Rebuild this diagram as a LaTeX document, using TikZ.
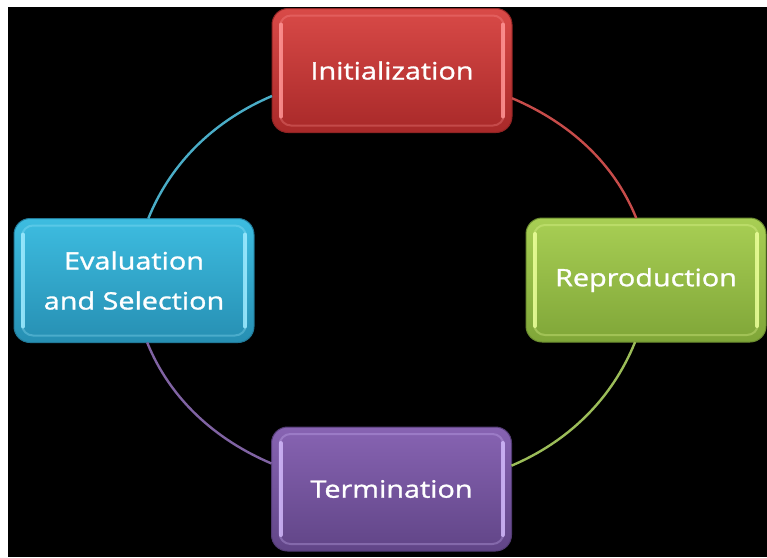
\documentclass[tikz,border=0pt]{standalone}
\usepackage{fontspec}
\newfontfamily\stagefont[FakeStretch=1.2,FakeBold=1.2]{Open Sans}
\definecolor{initred}{rgb}{0.85,0.29,0.28}
\definecolor{initreddark}{rgb}{0.66,0.16,0.16}
\definecolor{initredlight}{rgb}{1.0,0.58,0.58}
\definecolor{reprogreen}{rgb}{0.66,0.81,0.33}
\definecolor{reprogreendark}{rgb}{0.50,0.65,0.22}
\definecolor{reprogreenlight}{rgb}{0.92,1.0,0.60}
\definecolor{termpurple}{rgb}{0.53,0.39,0.70}
\definecolor{termpurpledark}{rgb}{0.38,0.27,0.53}
\definecolor{termpurplelight}{rgb}{0.82,0.72,0.98}
\definecolor{evalcyan}{rgb}{0.24,0.74,0.88}
\definecolor{evalcyandark}{rgb}{0.15,0.56,0.70}
\definecolor{evalcyanlight}{rgb}{0.62,0.92,1.0}
\definecolor{linkred}{rgb}{0.78,0.30,0.29}
\definecolor{linkgreen}{rgb}{0.61,0.74,0.35}
\definecolor{linkpurple}{rgb}{0.50,0.39,0.64}
\definecolor{linkcyan}{rgb}{0.29,0.68,0.78}
\tikzset{
  stagebox/.style n args={3}{rectangle, rounded corners=16pt,
    minimum width=240pt, minimum height=124pt, inner sep=0pt, outer sep=0pt,
    top color=#1, bottom color=#2, draw=#2!85!black, line width=1pt,
    text=white, align=center, font=\stagefont\fontsize{24}{40}\selectfont,
    path picture={
      \draw[#3, line width=2pt, opacity=0.3, rounded corners=11pt]
        ([xshift=8pt,yshift=-7pt]path picture bounding box.north west) rectangle
        ([xshift=-8pt,yshift=7pt]path picture bounding box.south east);
      \draw[#3, line width=4pt, opacity=0.85, line cap=round]
        ([xshift=9pt,yshift=-16pt]path picture bounding box.north west) --
        ([xshift=9pt,yshift=16pt]path picture bounding box.south west);
      \draw[#3, line width=4pt, opacity=0.85, line cap=round]
        ([xshift=-9pt,yshift=-16pt]path picture bounding box.north east) --
        ([xshift=-9pt,yshift=16pt]path picture bounding box.south east);
    }},
  link/.style={line width=2.4pt, looseness=0.9}
}
\begin{document}
\begin{tikzpicture}[x=1pt,y=1pt]
  \useasboundingbox (0,0) rectangle (767,-557);
  \fill[white] (0,0) rectangle (767,-557);
  \fill[black] (8,-7) rectangle (767,-557);

  % the four stages
  \node[stagebox={initred}{initreddark}{initredlight}] (init) at (392,-70.5) {Initialization};
  \node[stagebox={reprogreen}{reprogreendark}{reprogreenlight}] (repro) at (646,-280) {Reproduction};
  \node[stagebox={termpurple}{termpurpledark}{termpurplelight}] (term) at (391.5,-489) {Termination};
  \node[stagebox={evalcyan}{evalcyandark}{evalcyanlight}] (eval) at (134,-280.5) {Evaluation\\and Selection};

  % arcs of the cycle
  \draw[link, linkred] (init.347.5) to[out=-23, in=112] (repro.99.5);
  \draw[link, linkgreen] (repro.260.5) to[out=248, in=23] (term.11.6);
  \draw[link, linkpurple] (term.168.3) to[out=157, in=292] (eval.282.4);
  \draw[link, linkcyan] (init.192.5) to[out=203, in=68] (eval.77.6);
\end{tikzpicture}
\end{document}
